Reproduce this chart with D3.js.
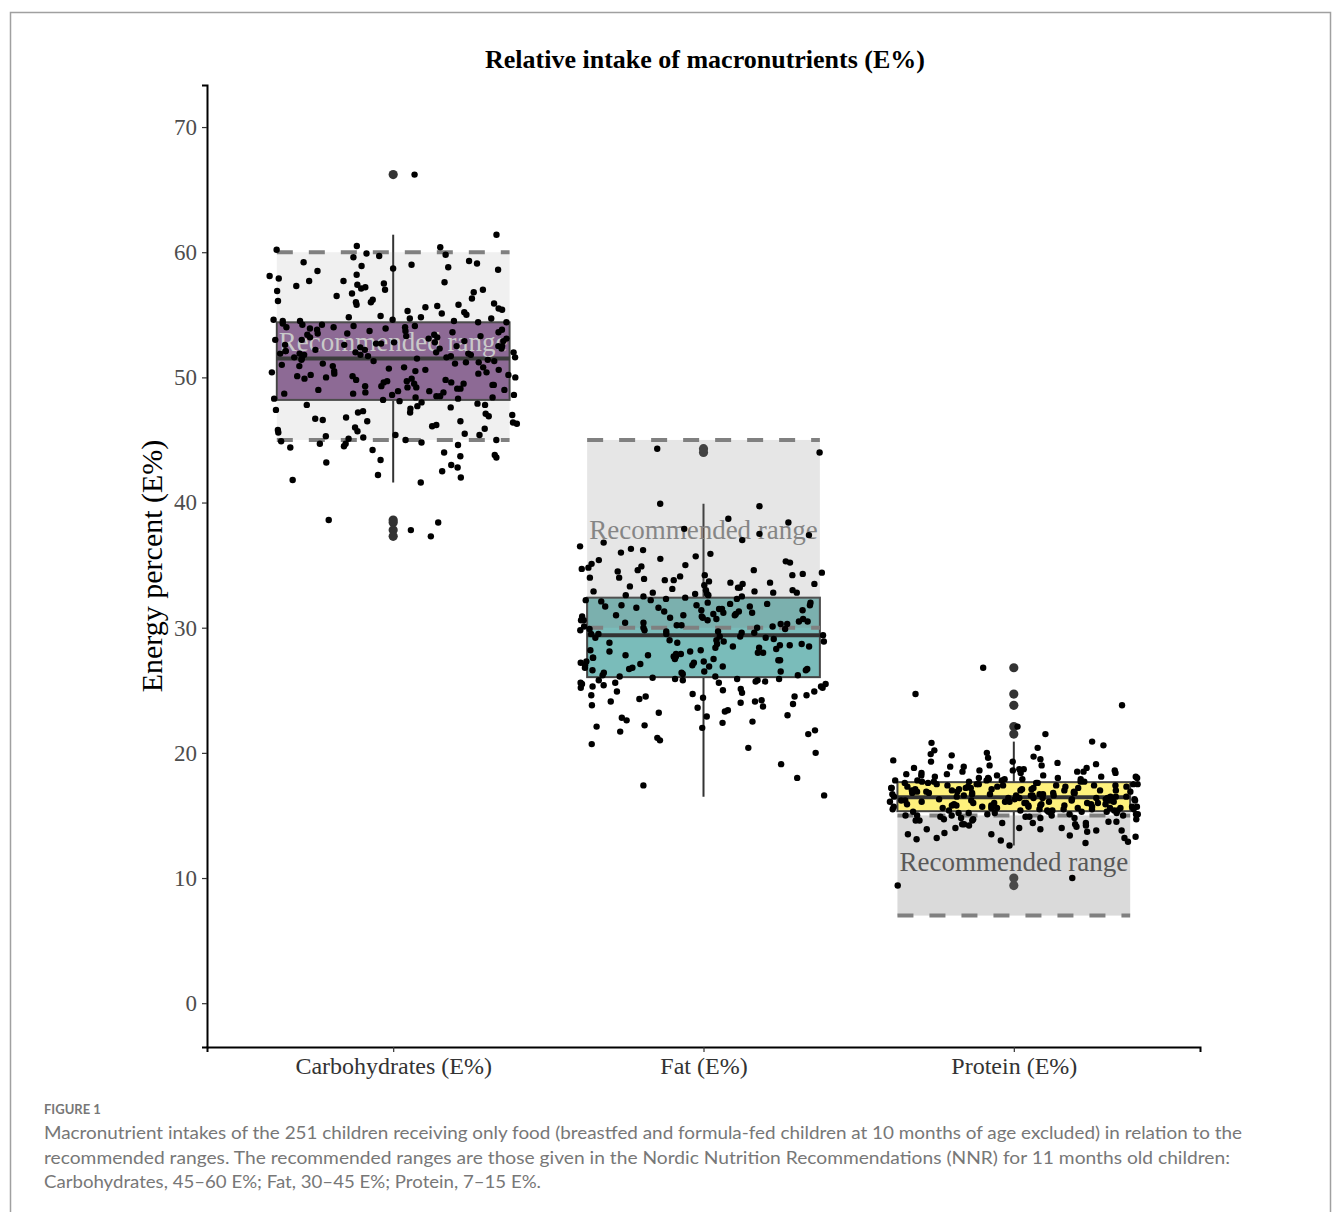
<!DOCTYPE html>
<html>
<head>
<meta charset="utf-8">
<script src="https://cdn.jsdelivr.net/npm/d3@7"></script>
<style>
  body { margin: 0; background: #fff; }
</style>
</head>
<body>
<svg id="chart" width="1333" height="1212"></svg>
<script>
// categories and recommended ranges (NNR)
const categories = ["Carbohydrates (E%)", "Fat (E%)", "Protein (E%)"];
const rangeLow = [45, 30, 7];
const rangeHigh = [60, 45, 15];
const yTicks = [0, 10, 20, 30, 40, 50, 60, 70];

// box statistics
const boxQ1 = [48.2, 26.05, 15.34];
const boxMedian = [51.5, 29.4, 16.46];
const boxQ3 = [54.4, 32.4, 17.66];
const whiskerLow = [41.6, 16.5, 12.6];
const whiskerHigh = [61.4, 39.9, 20.9];
const outliers = [
  [66.2, 38.6, 38.4, 37.8, 37.3],
  [44.3, 44.0],
  [26.8, 24.7, 23.8, 22.1, 21.5, 10.0, 9.4]
];

// individual children (E%)
const carbValues = [
  66.2, 61.4, 60.5, 60.4, 60.2, 59.9, 59.8, 59.7, 59.6, 59.3, 59.2, 59.1, 58.9, 58.8, 58.7, 58.6,
  58.2, 58.1, 57.9, 57.7, 57.7, 57.6, 57.5, 57.4, 57.3, 57.1, 57.0, 57.0, 56.9, 56.8, 56.7, 56.5,
  56.3, 56.1, 56.0, 56.0, 55.9, 55.8, 55.7, 55.6, 55.5, 55.4, 55.3, 55.2, 55.1, 55.0, 54.9, 54.8,
  54.8, 54.7, 54.7, 54.6, 54.6, 54.5, 54.5, 54.5, 54.4, 54.4, 55.8, 56.2, 57.2, 58.5, 59.0,
  54.3, 54.2, 54.1, 54.0, 54.0, 53.9, 53.8, 53.8, 53.7, 53.6, 53.5, 53.5, 53.4, 53.3, 53.2, 53.1,
  53.0, 53.0, 52.9, 52.8, 52.8, 52.7, 52.6, 52.5, 52.5, 52.4, 52.3, 52.2, 52.2, 52.1, 52.0, 52.0,
  51.9, 51.9, 51.8, 51.8, 51.7, 51.7, 51.6, 51.6, 51.5, 51.5, 53.6, 53.1, 52.6, 54.1, 53.9, 52.9,
  52.3, 51.9, 53.4, 54.2, 52.7, 51.8, 53.7, 52.0, 53.2, 52.5, 51.6, 54.0, 53.3, 52.1,
  51.4, 51.3, 51.2, 51.1, 51.0, 50.9, 50.8, 50.7, 50.6, 50.5, 50.4, 50.3, 50.2, 50.1, 50.0, 49.9,
  49.8, 49.7, 49.6, 49.5, 49.4, 49.3, 49.2, 49.1, 49.0, 48.9, 48.8, 48.7, 48.6, 48.5, 48.4, 48.3,
  48.2, 51.3, 50.9, 50.4, 49.9, 49.6, 49.2, 48.8, 48.4, 51.1, 50.6, 50.0, 49.4, 48.6, 51.2, 50.2,
  49.7, 49.0, 48.3, 50.8, 50.1, 49.5, 48.9, 51.4, 50.5, 49.8, 49.3, 48.7, 50.3, 49.1, 48.5,
  48.1, 48.0, 47.9, 47.8, 47.7, 47.6, 47.5, 47.4, 47.3, 47.2, 47.1, 47.0, 46.9, 46.8, 46.7, 46.6,
  46.5, 46.4, 46.3, 46.2, 46.1, 46.0, 45.9, 45.8, 45.7, 45.6, 45.5, 45.4, 45.3, 45.2, 45.1, 45.0,
  44.9, 44.8, 44.7, 44.6, 44.5, 44.4, 44.2, 44.0, 43.8, 43.6, 43.4, 43.2, 43.0, 42.8, 42.5, 42.2,
  42.0, 41.8, 41.6, 38.6, 38.4, 37.8, 37.3, 47.8, 47.2, 46.5, 45.4, 44.7, 43.7, 45.0
];
const fatValues = [
  44.3, 44.0, 39.9, 39.7, 38.7, 38.4, 37.9, 37.5, 37.4, 37.0, 36.8, 36.5, 36.3, 36.2, 35.9, 35.7,
  35.5, 35.4, 35.3, 35.2, 35.0, 34.9, 34.8, 34.7, 34.6, 34.5, 34.4, 34.3, 34.2, 34.1, 34.0, 34.0,
  33.9, 33.8, 33.7, 33.6, 33.5, 33.5, 33.4, 33.3, 33.2, 33.2, 33.1, 33.0, 33.0, 32.9, 32.9, 32.8,
  32.8, 32.7, 32.7, 32.6, 32.6, 32.5, 32.5, 32.4, 34.6, 33.6, 35.1, 33.8, 32.8, 36.0, 34.2,
  32.3, 32.2, 32.1, 32.0, 31.9, 31.8, 31.7, 31.6, 31.5, 31.4, 31.3, 31.2, 31.1, 31.0, 30.9, 30.8,
  30.7, 30.6, 30.5, 30.4, 30.3, 30.2, 30.1, 30.0, 29.9, 29.8, 29.7, 29.6, 29.5, 29.4, 32.2, 31.9,
  31.6, 31.3, 31.0, 30.7, 30.4, 30.1, 29.8, 29.5, 32.0, 31.5, 31.1, 30.6, 30.2, 29.7, 31.8, 31.2,
  30.8, 30.3, 29.9, 29.6, 32.3, 31.7, 31.4, 30.9, 30.5, 30.0, 31.0, 29.5, 30.6, 31.8,
  29.3, 29.2, 29.1, 29.0, 28.9, 28.8, 28.7, 28.6, 28.5, 28.4, 28.3, 28.2, 28.1, 28.0, 27.9, 27.8,
  27.7, 27.6, 27.5, 27.4, 27.3, 27.2, 27.1, 27.0, 26.9, 26.8, 26.7, 26.6, 26.5, 26.4, 26.3, 26.2,
  26.1, 29.2, 28.8, 28.4, 28.0, 27.6, 27.2, 26.8, 26.4, 29.0, 28.6, 28.2, 27.8, 27.4, 27.0, 26.6,
  26.2, 29.3, 28.5, 27.7, 26.9, 26.1, 28.9, 28.1, 27.3, 26.5, 28.7, 27.5, 26.7, 27.9,
  26.0, 25.9, 25.9, 25.8, 25.8, 25.7, 25.7, 25.6, 25.6, 25.5, 25.5, 25.4, 25.3, 25.2, 25.1, 25.0,
  24.9, 24.8, 24.7, 24.6, 24.5, 24.4, 24.3, 24.2, 24.1, 24.0, 23.9, 23.8, 23.6, 23.4, 23.2, 23.0,
  22.8, 22.6, 22.4, 22.2, 22.0, 21.8, 21.5, 21.2, 21.0, 20.7, 20.4, 20.0, 19.1, 18.0, 17.4, 16.6,
  25.9, 25.6, 25.3, 24.9, 24.5, 24.1, 23.7, 23.3, 22.9, 22.5, 22.1, 21.7, 25.8, 25.2, 24.6
];
const proteinValues = [
  26.8, 24.7, 23.8, 22.1, 21.5, 20.9, 20.8, 20.6, 20.4, 20.2, 20.0, 19.9, 19.8, 19.7, 19.6, 19.5,
  19.4, 19.3, 19.2, 19.1, 19.0, 18.9, 18.9, 18.8, 18.8, 18.7, 18.7, 18.6, 18.6, 18.5, 18.5, 18.4,
  18.4, 18.3, 18.3, 18.2, 18.2, 18.1, 18.1, 18.0, 18.0, 18.0, 17.9, 17.9, 17.9, 17.8, 17.8, 17.8,
  17.7, 17.7, 17.7, 17.7, 19.3, 18.6, 18.1, 17.8, 18.4, 19.0, 18.2, 17.9, 18.5, 17.7, 18.0,
  17.6, 17.6, 17.5, 17.5, 17.5, 17.4, 17.4, 17.4, 17.3, 17.3, 17.3, 17.2, 17.2, 17.2, 17.1, 17.1,
  17.1, 17.0, 17.0, 17.0, 16.9, 16.9, 16.9, 16.8, 16.8, 16.8, 16.7, 16.7, 16.7, 16.6, 16.6, 16.6,
  16.5, 16.5, 16.5, 17.6, 17.5, 17.4, 17.3, 17.2, 17.1, 17.0, 16.9, 16.8, 16.7, 16.6, 16.5, 17.6,
  17.4, 17.2, 17.0, 16.8, 16.6, 17.5, 17.3, 17.1, 16.9, 16.7, 16.5, 17.0, 16.8, 17.2,
  16.4, 16.4, 16.4, 16.3, 16.3, 16.3, 16.2, 16.2, 16.2, 16.1, 16.1, 16.1, 16.0, 16.0, 16.0, 15.9,
  15.9, 15.9, 15.8, 15.8, 15.8, 15.7, 15.7, 15.7, 15.6, 15.6, 15.6, 15.5, 15.5, 15.5, 15.4, 15.4,
  15.4, 16.4, 16.3, 16.2, 16.1, 16.0, 15.9, 15.8, 15.7, 15.6, 15.5, 15.4, 16.4, 16.2, 16.0, 15.8,
  15.6, 15.4, 16.3, 16.1, 15.9, 15.7, 15.5, 16.4, 16.0, 15.6, 16.2, 15.8, 15.4, 16.1, 15.7,
  15.3, 15.3, 15.3, 15.2, 15.2, 15.2, 15.1, 15.1, 15.1, 15.0, 15.0, 15.0, 14.9, 14.9, 14.8, 14.8,
  14.7, 14.7, 14.6, 14.6, 14.5, 14.5, 14.4, 14.4, 14.3, 14.3, 14.2, 14.1, 14.0, 14.0, 13.9, 13.8,
  13.7, 13.6, 13.5, 13.4, 13.3, 13.2, 13.1, 13.0, 12.9, 12.8, 12.6, 10.0, 9.4, 15.3, 15.2, 15.1,
  15.0, 14.9, 14.8, 14.6, 14.4, 14.2, 14.0, 13.8, 13.5, 13.2, 15.2, 15.0, 14.7, 14.3, 13.9
];
const groupValues = [carbValues, fatValues, proteinValues];

// colours (viridis ends, alpha 0.6 as in the figure)
const boxFill = ["#440154", "#21908C", "#FDE725"];
const rangeOpacity = [0.12, 0.2, 0.29];
const labelColor = ["#c9c9c9", "#858585", "#585858"];

const svg = d3.select("#chart");
const serif = "'Liberation Serif', 'Times New Roman', serif";

// figure frame
svg.append("rect")
  .attr("x", 10.5).attr("y", 12.5)
  .attr("width", 1320).attr("height", 1300)
  .attr("fill", "none").attr("stroke", "#a0a0a0").attr("stroke-width", 1.5);

const x = d3.scalePoint().domain(categories).range([207, 1200]).padding(0.6);
const y = d3.scaleLinear().domain([-3.5, 73.36]).range([1047, 85]);
const step = x.step();
const halfBox = step * 0.375;
const jitterW = step * 0.4;

// title
svg.append("text")
  .attr("x", 705).attr("y", 68)
  .attr("text-anchor", "middle")
  .attr("font-family", serif).attr("font-weight", "bold").attr("font-size", 26)
  .text("Relative intake of macronutrients (E%)");

// axes
const yAxis = svg.append("g")
  .attr("transform", "translate(207,0)")
  .call(d3.axisLeft(y).tickValues(yTicks).tickSize(5).tickPadding(5));
yAxis.select(".domain").attr("stroke", "#000").attr("stroke-width", 2);
yAxis.selectAll(".tick line").attr("stroke", "#333").attr("stroke-width", 1.2);
yAxis.selectAll(".tick text")
  .attr("font-family", serif).attr("font-size", 23).attr("fill", "#4d4d4d");

const xAxis = svg.append("g")
  .attr("transform", "translate(0,1047)")
  .call(d3.axisBottom(x).tickSize(5).tickPadding(5));
xAxis.select(".domain").attr("stroke", "#000").attr("stroke-width", 2);
xAxis.selectAll(".tick line").attr("stroke", "#333").attr("stroke-width", 1.2);
xAxis.selectAll(".tick text")
  .attr("font-family", serif).attr("font-size", 24).attr("fill", "#333");

svg.append("text")
  .attr("transform", "translate(162,566) rotate(-90)")
  .attr("text-anchor", "middle")
  .attr("font-family", serif).attr("font-size", 30)
  .text("Energy percent (E%)");

const idx = d3.range(categories.length);
const plot = svg.append("g");

// whiskers
plot.selectAll(".whisker").data(idx).enter().append("line")
  .attr("x1", i => x(categories[i])).attr("x2", i => x(categories[i]))
  .attr("y1", i => y(whiskerLow[i])).attr("y2", i => y(whiskerHigh[i]))
  .attr("stroke", "#333").attr("stroke-width", 2);

// boxes
plot.selectAll(".box").data(idx).enter().append("rect")
  .attr("x", i => x(categories[i]) - halfBox)
  .attr("width", halfBox * 2)
  .attr("y", i => y(boxQ3[i]))
  .attr("height", i => y(boxQ1[i]) - y(boxQ3[i]))
  .attr("fill", "#fff");
plot.selectAll(".boxfill").data(idx).enter().append("rect")
  .attr("x", i => x(categories[i]) - halfBox)
  .attr("width", halfBox * 2)
  .attr("y", i => y(boxQ3[i]))
  .attr("height", i => y(boxQ1[i]) - y(boxQ3[i]))
  .attr("fill", i => boxFill[i]).attr("fill-opacity", 0.6)
  .attr("stroke", "#444").attr("stroke-width", 2);
plot.selectAll(".median").data(idx).enter().append("line")
  .attr("x1", i => x(categories[i]) - halfBox).attr("x2", i => x(categories[i]) + halfBox)
  .attr("y1", i => y(boxMedian[i])).attr("y2", i => y(boxMedian[i]))
  .attr("stroke", "#333").attr("stroke-width", 4);

// boxplot outliers
idx.forEach(i => {
  plot.selectAll(null).data(outliers[i]).enter().append("circle")
    .attr("cx", x(categories[i])).attr("cy", d => y(d))
    .attr("r", 4.6).attr("fill", "#333");
});

// recommended ranges
plot.selectAll(".range").data(idx).enter().append("rect")
  .attr("x", i => x(categories[i]) - halfBox)
  .attr("width", halfBox * 2)
  .attr("y", i => y(rangeHigh[i]))
  .attr("height", i => y(rangeLow[i]) - y(rangeHigh[i]))
  .attr("fill", "#808080").attr("fill-opacity", i => rangeOpacity[i]);

idx.forEach(i => {
  [rangeLow[i], rangeHigh[i]].forEach(v => {
    plot.append("line")
      .attr("x1", x(categories[i]) - halfBox).attr("x2", x(categories[i]) + halfBox)
      .attr("y1", y(v)).attr("y2", y(v))
      .attr("stroke", "#808080").attr("stroke-width", 4)
      .attr("stroke-dasharray", "16,16");
  });
});

plot.selectAll(".rlabel").data(idx).enter().append("text")
  .attr("x", i => x(categories[i]))
  .attr("y", i => y((rangeLow[i] + rangeHigh[i]) / 2) - 4)
  .attr("dominant-baseline", "central")
  .attr("text-anchor", "middle")
  .attr("font-family", serif).attr("font-size", 27)
  .attr("fill", i => labelColor[i])
  .text("Recommended range");

// jittered points (deterministic offsets)
function jit(i, v) {
  const s = Math.sin(i * 127.1 + v * 311.7) * 43758.5453;
  return (s - Math.floor(s)) * 2 - 1;
}
idx.forEach(g => {
  plot.selectAll(null).data(groupValues[g]).enter().append("circle")
    .attr("cx", (d, j) => x(categories[g]) + jit(j + g * 1000, d) * jitterW)
    .attr("cy", d => y(d))
    .attr("r", 3.2).attr("fill", "#000");
});

// caption
const cap = svg.append("g").attr("font-family", "Lato, 'Open Sans', sans-serif").attr("fill", "#777");
cap.append("text").attr("x", 44).attr("y", 1114)
  .attr("font-size", 13).attr("font-weight", "bold").text("FIGURE 1");
const capLines = [
  ["Macronutrient intakes of the 251 children receiving only food (breastfed and formula-fed children at 10 months of age excluded) in relation to the", 1198],
  ["recommended ranges. The recommended ranges are those given in the Nordic Nutrition Recommendations (NNR) for 11 months old children:", 1186],
  ["Carbohydrates, 45\u201360 E%; Fat, 30\u201345 E%; Protein, 7\u201315 E%.", 497]
];
capLines.forEach((l, k) => {
  cap.append("text").attr("x", 44).attr("y", 1139 + k * 24.5)
    .attr("font-size", 17.5)
    .attr("textLength", l[1]).attr("lengthAdjust", "spacingAndGlyphs")
    .text(l[0]);
});
</script>
</body>
</html>
